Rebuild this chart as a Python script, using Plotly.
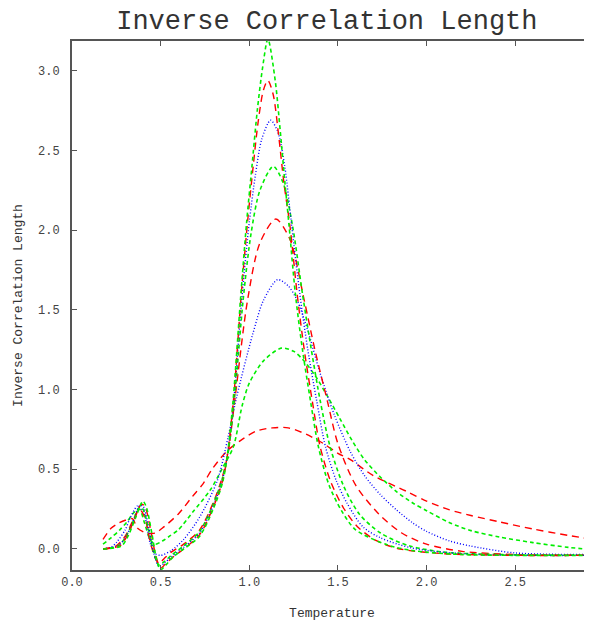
import plotly.graph_objects as go

# Curve 1 (red dashed, broadest)
T1 = [0.175, 0.22, 0.26, 0.30, 0.34, 0.37, 0.42, 0.47, 0.52, 0.60, 0.68, 0.74, 0.79, 0.87, 0.95, 1.04,
      1.13, 1.22, 1.32, 1.42, 1.50, 1.57, 1.70, 1.89, 2.00, 2.13, 2.25, 2.41, 2.60, 2.80, 2.95]
V1 = [0.06, 0.13, 0.16, 0.18, 0.19, 0.13, 0.10, 0.10, 0.14, 0.22, 0.33, 0.41, 0.50, 0.61, 0.68, 0.74,
      0.76, 0.76, 0.72, 0.66, 0.60, 0.56, 0.46, 0.36, 0.30, 0.245, 0.21, 0.17, 0.125, 0.085, 0.058]

# Curve 2 (green dashed)
T2 = [0.175, 0.22, 0.27, 0.31, 0.35, 0.38, 0.41, 0.44, 0.47, 0.51, 0.55, 0.60, 0.68, 0.78, 0.85, 0.91,
      0.96, 1.00, 1.08, 1.18, 1.25, 1.30, 1.37, 1.44, 1.51, 1.58, 1.65, 1.74, 1.83, 1.92, 2.00, 2.13,
      2.25, 2.41, 2.60, 2.80, 2.95]
V2 = [0.03, 0.07, 0.12, 0.17, 0.23, 0.25, 0.16, 0.06, 0.03, 0.05, 0.08, 0.12, 0.23, 0.37, 0.51, 0.64,
      0.90, 1.04, 1.18, 1.26, 1.24, 1.19, 1.09, 0.96, 0.82, 0.68, 0.56, 0.45, 0.36, 0.29, 0.24, 0.165,
      0.115, 0.075, 0.04, 0.01, -0.005]

# Curve 3 (blue dotted)
T3 = [0.175, 0.22, 0.25, 0.30, 0.33, 0.37, 0.40, 0.42, 0.44, 0.47, 0.50, 0.56, 0.63, 0.72, 0.82, 0.88,
      0.93, 1.02, 1.08, 1.16, 1.22, 1.27, 1.33, 1.40, 1.48, 1.57, 1.65, 1.74, 1.83, 1.92, 2.00, 2.13,
      2.25, 2.50, 2.95]
V3 = [0.0, 0.01, 0.04, 0.12, 0.20, 0.27, 0.24, 0.16, 0.04, -0.03, -0.04, -0.01, 0.06, 0.20, 0.43, 0.70,
      0.96, 1.35, 1.56, 1.69, 1.65, 1.56, 1.37, 1.10, 0.84, 0.61, 0.46, 0.34, 0.245, 0.165, 0.11, 0.05,
      0.018, -0.025, -0.035]

# Curve 4 (red dashed)
T4 = [0.175, 0.25, 0.30, 0.34, 0.38, 0.41, 0.44, 0.47, 0.49, 0.52, 0.56, 0.63, 0.72, 0.80, 0.85, 0.88,
      0.92, 0.99, 1.06, 1.15, 1.23, 1.31, 1.37, 1.44, 1.50, 1.60, 1.73, 1.86, 2.00, 2.20, 2.50, 2.95]
V4 = [0.0, 0.02, 0.08, 0.17, 0.25, 0.20, 0.05, -0.06, -0.09, -0.06, -0.02, 0.03, 0.12, 0.30, 0.46, 0.60,
      0.95, 1.56, 1.92, 2.07, 1.94, 1.56, 1.25, 0.93, 0.66, 0.40, 0.22, 0.10, 0.03, -0.015, -0.035, -0.04]

# Curve 5 (green dashed)
T5 = [0.175, 0.26, 0.30, 0.34, 0.38, 0.40, 0.43, 0.46, 0.49, 0.52, 0.56, 0.63, 0.72, 0.80, 0.85, 0.88,
      0.917, 0.965, 1.01, 1.06, 1.135, 1.19, 1.245, 1.30, 1.35, 1.40, 1.456, 1.53, 1.62, 1.74, 1.90, 2.10,
      2.40, 2.95]
V5 = [0.0, 0.02, 0.07, 0.16, 0.26, 0.25, 0.13, -0.02, -0.10, -0.08, -0.04, 0.02, 0.11, 0.29, 0.45, 0.60,
      0.95, 1.56, 1.98, 2.25, 2.40, 2.30, 2.02, 1.60, 1.25, 0.93, 0.64, 0.40, 0.22, 0.10, 0.02, -0.02,
      -0.035, -0.04]

# Curve 6 (blue dotted)
T6 = [0.175, 0.26, 0.30, 0.34, 0.38, 0.40, 0.43, 0.46, 0.49, 0.52, 0.56, 0.63, 0.72, 0.80, 0.85, 0.878,
      0.914, 0.957, 1.00, 1.035, 1.07, 1.12, 1.16, 1.20, 1.24, 1.285, 1.33, 1.38, 1.43, 1.49, 1.55, 1.64,
      1.74, 1.92, 2.20, 2.60, 2.95]
V6 = [0.0, 0.02, 0.07, 0.16, 0.27, 0.27, 0.15, -0.02, -0.11, -0.09, -0.05, 0.01, 0.10, 0.28, 0.44, 0.60,
      0.95, 1.56, 2.05, 2.35, 2.57, 2.69, 2.62, 2.40, 2.02, 1.60, 1.25, 0.93, 0.64, 0.43, 0.29, 0.14,
      0.07, 0.005, -0.03, -0.04, -0.04]

# Curve 7 (red dashed)
T7 = [0.175, 0.27, 0.31, 0.35, 0.39, 0.41, 0.44, 0.47, 0.50, 0.53, 0.57, 0.63, 0.72, 0.80, 0.85, 0.878,
      0.912, 0.952, 0.99, 1.02, 1.05, 1.08, 1.105, 1.135, 1.165, 1.195, 1.23, 1.27, 1.31, 1.355, 1.40,
      1.46, 1.53, 1.61, 1.72, 1.85, 2.10, 2.50, 2.95]
V7 = [0.0, 0.02, 0.08, 0.18, 0.28, 0.27, 0.14, -0.03, -0.12, -0.09, -0.05, 0.0, 0.09, 0.27, 0.43, 0.60,
      0.95, 1.56, 2.05, 2.38, 2.68, 2.88, 2.94, 2.85, 2.60, 2.30, 2.02, 1.60, 1.25, 0.93, 0.64,
      0.42, 0.26, 0.14, 0.05, 0.0, -0.03, -0.04, -0.04]

# Curve 8 (green dashed, narrowest)
T8 = [0.175, 0.28, 0.32, 0.36, 0.40, 0.42, 0.45, 0.48, 0.50, 0.53, 0.57, 0.63, 0.72, 0.80, 0.85, 0.88,
      0.91, 0.95, 0.985, 1.015, 1.045, 1.075, 1.105, 1.146, 1.174, 1.20, 1.225, 1.26, 1.30, 1.345, 1.39,
      1.45, 1.52, 1.60, 1.78, 1.92, 2.20, 2.95]
V8 = [0.0, 0.02, 0.09, 0.20, 0.30, 0.26, 0.10, -0.08, -0.13, -0.10, -0.05, 0.0, 0.08, 0.26, 0.42, 0.62,
      0.95, 1.56, 2.05, 2.40, 2.75, 3.02, 3.20, 2.94, 2.63, 2.31, 2.02, 1.60, 1.25, 0.93, 0.64,
      0.40, 0.24, 0.12, 0.025, -0.01, -0.035, -0.04]

X_TICKS = [0.0, 0.5, 1.0, 1.5, 2.0, 2.5]
X_TICK_LABELS = ["0.0", "0.5", "1.0", "1.5", "2.0", "2.5"]
Y_TICKS = [0.0, 0.5, 1.0, 1.5, 2.0, 2.5, 3.0]
Y_TICK_LABELS = ["0.0", "0.5", "1.0", "1.5", "2.0", "2.5", "3.0"]

RED = "#ff0000"
GREEN = "#00ee00"
BLUE = "#0000ff"

styles = {
    "red": dict(color=RED, width=1.4, dash="7px,5px"),
    "green": dict(color=GREEN, width=1.6, dash="4px,3px"),
    "blue": dict(color=BLUE, width=1.4, dash="1px,2px"),
}

series = [
    (T1, V1, "red"), (T2, V2, "green"), (T3, V3, "blue"), (T4, V4, "red"),
    (T5, V5, "green"), (T6, V6, "blue"), (T7, V7, "red"), (T8, V8, "green"),
]

fig = go.Figure()
for t, v, s in series:
    fig.add_trace(go.Scatter(x=t, y=v, mode="lines", line=dict(**styles[s], shape="spline", smoothing=0.8),
                             showlegend=False, hoverinfo="skip"))

MONO = "Liberation Mono, Courier New, monospace"
axis_col = "#555555"

# page body has an 8px margin, so the figure is sized to fit the window from (8, 8)
fig.update_layout(
    width=584, height=619, autosize=False,
    margin=dict(l=64, r=0, t=33, b=57, autoexpand=False),
    paper_bgcolor="white", plot_bgcolor="white",
    title=dict(text="Inverse Correlation Length", x=0.546, xanchor="center", xref="container",
               y=0.981, yanchor="middle",
               font=dict(family=MONO, size=27, color="#333333")),
    font=dict(family=MONO, color="#333333"),
)
fig.update_xaxes(
    range=[0, 2.933], tickvals=X_TICKS, ticktext=X_TICK_LABELS, automargin=False,
    showgrid=False, zeroline=False, showline=True, linecolor=axis_col, linewidth=2,
    mirror="ticks", ticks="inside", ticklen=5, tickcolor=axis_col, tickwidth=1,
    tickfont=dict(family=MONO, size=12, color="#444444"),
    title=dict(text="Temperature", font=dict(family=MONO, size=13, color="#333333"), standoff=18),
)
fig.update_yaxes(
    range=[-0.132, 3.187], tickvals=Y_TICKS, ticktext=Y_TICK_LABELS, automargin=False,
    showgrid=False, zeroline=False, showline=True, linecolor=axis_col, linewidth=2,
    ticks="inside", ticklen=5, tickcolor=axis_col, tickwidth=1, ticklabelstandoff=8,
    tickfont=dict(family=MONO, size=12, color="#444444"),
    title=dict(text="Inverse Correlation Length", font=dict(family=MONO, size=13, color="#333333"), standoff=12),
)

fig.write_html("out.html")
